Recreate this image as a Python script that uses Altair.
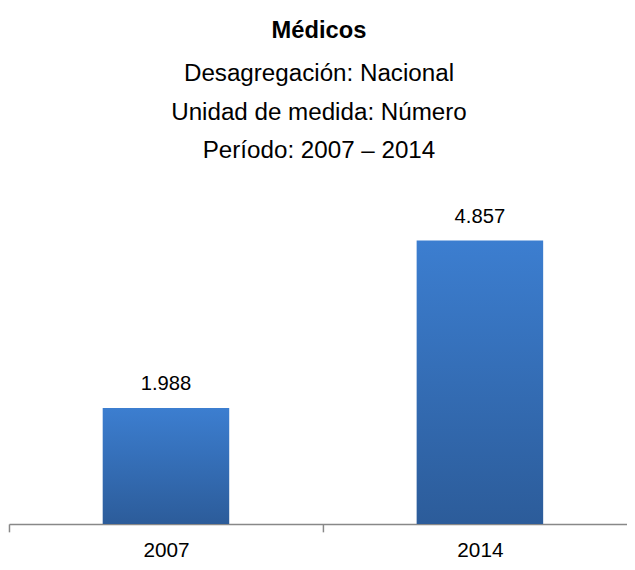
import altair as alt
import pandas as pd

years = ["2007", "2014"]
values = [1988, 4857]
title_text = "Médicos"
subtitle_lines = ["Desagregación: Nacional", "Unidad de medida: Número", "Período: 2007 – 2014"]

df = pd.DataFrame({"year": years, "value": values})

FONT = "Liberation Sans"

x = alt.X(
    "year:N",
    sort=years,
    title=None,
    scale=alt.Scale(range=[0, 636], paddingInner=0, paddingOuter=0),
    axis=alt.Axis(
        labelAngle=0,
        labelFont=FONT,
        labelFontSize=21,
        labelColor="#000000",
        labelPadding=8,
        tickBand="extent",
        tickSize=8,
        tickColor="#888888",
        domainColor="#888888",
        tickWidth=1.5,
        domainWidth=1.5,
        grid=False,
    ),
)
y = alt.Y(
    "value:Q",
    title=None,
    scale=alt.Scale(domain=[0, 5500], nice=False, zero=True),
    axis=None,
)

bars = alt.Chart(df).mark_bar(
    width=alt.RelativeBandSize(0.403),
    color=alt.Gradient(
        gradient="linear",
        x1=0, y1=0, x2=0, y2=1,
        stops=[
            alt.GradientStop(offset=0, color="#3C7ED0"),
            alt.GradientStop(offset=1, color="#2C5C9A"),
        ],
    ),
).encode(x=x, y=y)

labels = alt.Chart(df).transform_calculate(
    lab="replace(format(datum.value, ',d'), ',', '.')"
).mark_text(
    font=FONT, fontSize=20.5, color="#000000", baseline="alphabetic", dy=-18
).encode(x=x, y=y, text="lab:N")

chart = alt.layer(bars, labels).properties(
    width=626,
    height=325,
    autosize=alt.AutoSizeParams(type="none"),
    padding={"left": 1, "top": 194, "right": 0, "bottom": 40},
    title=alt.TitleParams(
        text=title_text,
        subtitle=subtitle_lines,
        font=FONT,
        fontSize=24,
        fontWeight="bold",
        color="#000000",
        subtitleFont=FONT,
        subtitleFontSize=24.5,
        subtitleColor="#000000",
        subtitleLineHeight=39,
        subtitlePadding=20,
        anchor="middle",
        dx=1,
        offset=41,
    ),
).configure_view(stroke=None)

chart.save("out.html", embed_options={"renderer": "svg", "actions": False})
